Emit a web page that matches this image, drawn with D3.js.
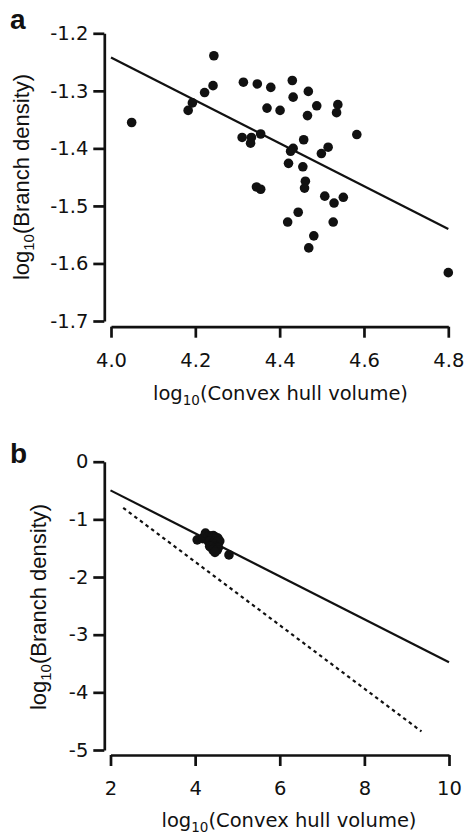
<!DOCTYPE html>
<html>
<head>
<meta charset="utf-8">
<script src="https://cdn.jsdelivr.net/npm/d3@7"></script>
<style>
  body { margin: 0; background: #fff; }
  .tick text { font-family: "DejaVu Sans", Verdana, sans-serif; font-size: 19.5px; fill: #111; }
  .domain, .tick line { stroke: #111; stroke-width: 2.7px; }
</style>
</head>
<body>
<div id="chart"></div>
<script>
/** data: log10 convex hull volume vs log10 branch density */
let hullVolume = [4.049, 4.183, 4.193, 4.222, 4.242, 4.244, 4.314, 4.347, 4.379, 4.430,
  4.468, 4.432, 4.370, 4.401, 4.488, 4.538, 4.535, 4.466, 4.583, 4.311,
  4.333, 4.331, 4.355, 4.457, 4.432, 4.426, 4.499, 4.515, 4.421, 4.455,
  4.461, 4.459, 4.345, 4.355, 4.507, 4.551, 4.529, 4.444, 4.419, 4.527,
  4.481, 4.469, 4.800];
let branchDensity = [-1.355, -1.334, -1.321, -1.303, -1.291, -1.239, -1.285, -1.288, -1.294, -1.282,
  -1.301, -1.311, -1.330, -1.334, -1.326, -1.324, -1.338, -1.343, -1.376, -1.381,
  -1.381, -1.391, -1.375, -1.385, -1.400, -1.405, -1.409, -1.398, -1.426, -1.432,
  -1.457, -1.469, -1.467, -1.471, -1.483, -1.485, -1.495, -1.511, -1.528, -1.528,
  -1.552, -1.573, -1.616];

/** fitted line (solid) and reference line (dotted) */
let fitLine = { slope: -0.3725, intercept: 0.248 };
let refLine = { slope: -0.55, intercept: 0.464 };

/** tick values */
let xTicksA = [4.0, 4.2, 4.4, 4.6, 4.8];
let yTicksA = [-1.2, -1.3, -1.4, -1.5, -1.6, -1.7];
let xTicksB = [2, 4, 6, 8, 10];
let yTicksB = [0, -1, -2, -3, -4, -5];

let width = 467, height = 834;

let svg = d3.select('#chart')
  .append('svg')
  .attr('width', width)
  .attr('height', height)

let points = d3.zip(hullVolume, branchDensity);

// plain hyphen for negatives, as in the original figure
let fmt1 = d => d.toFixed(1);
let fmt0 = d => String(d);

function drawPanel(opt) {
  let x = d3.scaleLinear().domain(opt.xDomain).range(opt.xRange);
  let y = d3.scaleLinear().domain(opt.yDomain).range(opt.yRange);
  let g = svg.append('g');

  // offset axes, like the original
  g.append('g')
    .attr('transform', `translate(0,${opt.xAxisY})`)
    .call(d3.axisBottom(x).tickValues(opt.xTicks).tickFormat(opt.xFormat)
      .tickSizeInner(11).tickSizeOuter(0).tickPadding(15));
  g.append('g')
    .attr('transform', `translate(${opt.yAxisX},0)`)
    .call(d3.axisLeft(y).tickValues(opt.yTicks).tickFormat(opt.yFormat)
      .tickSizeInner(11).tickSizeOuter(0).tickPadding(5));

  // fitted line
  g.append('line')
    .attr('x1', x(opt.fitRange[0])).attr('y1', y(fitLine.intercept + fitLine.slope * opt.fitRange[0]))
    .attr('x2', x(opt.fitRange[1])).attr('y2', y(fitLine.intercept + fitLine.slope * opt.fitRange[1]))
    .attr('stroke', '#111').attr('stroke-width', 2.2)

  if (opt.refRange) {
    g.append('line')
      .attr('x1', x(opt.refRange[0])).attr('y1', y(refLine.intercept + refLine.slope * opt.refRange[0]))
      .attr('x2', x(opt.refRange[1])).attr('y2', y(refLine.intercept + refLine.slope * opt.refRange[1]))
      .attr('stroke', '#111').attr('stroke-width', 2.2)
      .attr('stroke-dasharray', '3.5,3.5')
  }

  g.selectAll('circle')
    .data(points)
    .enter()
    .append('circle')
    .attr('cx', d => x(d[0]))
    .attr('cy', d => y(d[1]))
    .attr('r', 4.8)
    .attr('fill', '#111')

  // x title with subscript
  let xt = g.append('text')
    .attr('x', opt.xTitlePos[0]).attr('y', opt.xTitlePos[1])
    .attr('text-anchor', 'middle')
    .style('font-family', '"DejaVu Sans", Verdana, sans-serif')
    .style('font-size', '19.5px')
    .attr('fill', '#111')
  xt.append('tspan').text('log')
  xt.append('tspan').text('10').attr('dy', 5).style('font-size', '13.5px')
  xt.append('tspan').text('(Convex hull volume)').attr('dy', -5)

  // y title, rotated
  let yt = g.append('text')
    .attr('transform', `translate(${opt.yTitlePos[0]},${opt.yTitlePos[1]}) rotate(-90)`)
    .attr('text-anchor', 'middle')
    .style('font-family', '"Liberation Sans", Arial, sans-serif')
    .style('font-size', '22px')
    .attr('fill', '#111')
  yt.append('tspan').text('log')
  yt.append('tspan').text('10').attr('dy', 5).style('font-size', '15px')
  yt.append('tspan').text('(Branch density)').attr('dy', -5)

  // panel letter
  g.append('text')
    .attr('x', opt.letterPos[0]).attr('y', opt.letterPos[1])
    .style('font-family', '"Liberation Sans", Arial, sans-serif')
    .style('font-weight', 'bold')
    .style('font-size', '28px')
    .attr('fill', '#111')
    .text(opt.letter)
}

drawPanel({
  letter: 'a', letterPos: [10, 29],
  xDomain: [4.0, 4.8], xRange: [111, 448.3], xTicks: xTicksA, xFormat: fmt1,
  yDomain: [-1.2, -1.7], yRange: [33.3, 321], yTicks: yTicksA, yFormat: fmt1,
  xAxisY: 326.7, yAxisX: 104.3,
  fitRange: [4.0, 4.8],
  xTitlePos: [280.5, 400], yTitlePos: [29, 177]
})

drawPanel({
  letter: 'b', letterPos: [10, 463],
  xDomain: [2, 10], xRange: [110.5, 449], xTicks: xTicksB, xFormat: fmt0,
  yDomain: [0, -5], yRange: [461.7, 750], yTicks: yTicksB, yFormat: fmt0,
  xAxisY: 755, yAxisX: 104.3,
  fitRange: [2, 10], refRange: [2.3, 9.35],
  xTitlePos: [289, 827], yTitlePos: [46, 607]
})
</script>
</body>
</html>
